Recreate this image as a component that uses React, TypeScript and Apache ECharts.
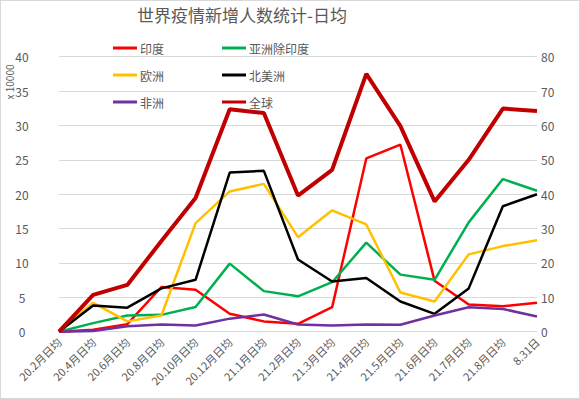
import React, { useEffect, useRef } from "react";
import * as echarts from "echarts";

const categories = [
  "20.2月日均", "20.4月日均", "20.6月日均", "20.8月日均", "20.10月日均",
  "20.12月日均", "21.1月日均", "21.2月日均", "21.3月日均", "21.4月日均",
  "21.5月日均", "21.6月日均", "21.7月日均", "21.8月日均", "8.31日",
];
const india = [0, 0.3, 1.1, 6.5, 6.1, 2.6, 1.5, 1.15, 3.56, 25.2, 27.2, 7.4, 3.95, 3.7, 4.2];
const asiaExIndia = [0, 1.25, 2.35, 2.45, 3.6, 9.9, 5.9, 5.15, 7.2, 12.95, 8.3, 7.55, 15.9, 22.2, 20.5];
const europe = [0, 4.2, 1.5, 2.35, 15.8, 20.4, 21.5, 13.75, 17.65, 15.6, 5.7, 4.4, 11.25, 12.45, 13.3];
const northAmerica = [0, 3.8, 3.5, 6.3, 7.55, 23.15, 23.4, 10.5, 7.3, 7.8, 4.4, 2.6, 6.3, 18.25, 20.0];
const africa = [0, 0.1, 0.8, 1.05, 0.9, 1.9, 2.5, 1.05, 0.9, 1.05, 1.0, 2.35, 3.55, 3.3, 2.2];
const globalTotal = [0, 10.7, 13.6, 26.4, 38.9, 64.7, 63.6, 39.6, 47.1, 75, 59.8, 37.9, 50, 64.9, 64.2];

const FONT = "'Noto Sans CJK SC', 'Noto Sans', sans-serif";
const GRAY = "#595959";

export default function App() {
  const ref = useRef<HTMLDivElement>(null);
  useEffect(() => {
    if (!ref.current) return;
    const chart = echarts.init(ref.current, undefined, { renderer: "svg" });
    const mk = (name: string, data: number[], color: string, width: number, yAxisIndex = 0) => ({
      name,
      type: "line",
      data,
      yAxisIndex,
      symbol: "none",
      lineStyle: { color, width },
      itemStyle: { color },
    });
    const legendBase = {
      left: 112,
      padding: 0,
      itemWidth: 24,
      itemHeight: 3,
      itemGap: 58,
      textStyle: { color: GRAY, fontSize: 12, fontFamily: FONT, padding: [0, 0, 0, -2] },
      icon: "rect",
    };
    chart.setOption({
      animation: false,
      textStyle: { fontFamily: FONT },
      title: {
        text: "世界疫情新增人数统计-日均",
        left: 241,
        textAlign: "center",
        top: 5,
        padding: 0,
        textStyle: { color: GRAY, fontSize: 17, fontWeight: "normal", fontFamily: FONT },
      },
      legend: [
        { ...legendBase, top: 41, data: ["印度", "亚洲除印度"] },
        { ...legendBase, top: 68, data: ["欧洲", "北美洲"] },
        { ...legendBase, top: 95, data: ["非洲", "全球"] },
      ],
      grid: { left: 58, right: 42, top: 55.7, bottom: 66.3, containLabel: false },
      xAxis: {
        type: "category",
        data: categories,
        boundaryGap: false,
        axisTick: { show: false },
        axisLine: { lineStyle: { color: "#d9d9d9" } },
        axisLabel: { rotate: 45, interval: 0, color: GRAY, fontSize: 11, margin: 8 },
      },
      yAxis: [
        {
          type: "value",
          min: 0,
          max: 40,
          interval: 5,
          axisLabel: { color: GRAY, fontSize: 12, margin: 37, align: "center" },
          splitLine: { lineStyle: { color: "#d9d9d9" } },
          axisLine: { show: false },
          axisTick: { show: false },
        },
        {
          type: "value",
          min: 0,
          max: 80,
          interval: 10,
          position: "right",
          axisLabel: { color: GRAY, fontSize: 12, margin: 4 },
          splitLine: { show: false },
          axisLine: { show: false },
          axisTick: { show: false },
        },
      ],
      graphic: [
        {
          type: "text",
          x: 8,
          y: 81,
          rotation: Math.PI / 2,
          style: {
            text: "x 10000",
            fill: GRAY,
            fontSize: 10,
            fontFamily: FONT,
            align: "center",
            verticalAlign: "middle",
          },
        },
      ],
      series: [
        mk("印度", india, "#FF0000", 2.5),
        mk("亚洲除印度", asiaExIndia, "#00B050", 2.5),
        mk("欧洲", europe, "#FFC000", 2.5),
        mk("北美洲", northAmerica, "#000000", 2.5),
        mk("非洲", africa, "#7030A0", 2.5),
        mk("全球", globalTotal, "#C00000", 4, 1),
      ],
    });
    return () => chart.dispose();
  }, []);
  return (
    <div
      ref={ref}
      style={{
        position: "fixed",
        left: 0,
        top: 0,
        width: 580,
        height: 399,
        border: "1px solid #d9d9d9",
        boxSizing: "border-box",
        background: "#fff",
      }}
    />
  );
}
